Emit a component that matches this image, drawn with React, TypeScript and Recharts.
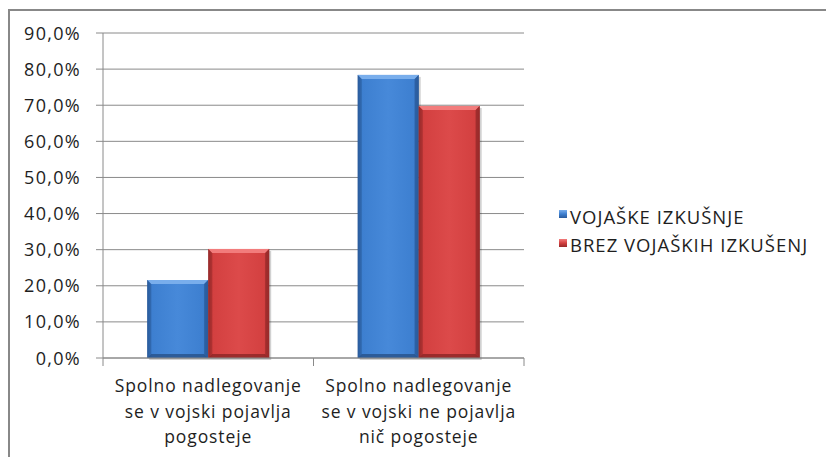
import React from "react";
import { BarChart, Bar, XAxis, YAxis, CartesianGrid, Legend } from "recharts";

const categories = [
  "Spolno nadlegovanje se v vojski pojavlja pogosteje",
  "Spolno nadlegovanje se v vojski ne pojavlja nič pogosteje",
];
const categoryLines = [
  ["Spolno nadlegovanje", "se v vojski pojavlja", "pogosteje"],
  ["Spolno nadlegovanje", "se v vojski ne pojavlja", "nič pogosteje"],
];
const seriesNames = ["VOJAŠKE IZKUŠNJE", "BREZ VOJAŠKIH IZKUŠENJ"];
const vojaskeValues = [21.6, 78.4];
const brezValues = [30.2, 69.8];
const yTicks = [0, 10, 20, 30, 40, 50, 60, 70, 80, 90];

const data = categories.map((c, i) => ({
  name: c,
  idx: i,
  vojaske: vojaskeValues[i],
  brez: brezValues[i],
}));

const W = 826;
const H = 457;
const PLOT_LEFT = 103;
const PLOT_RIGHT = 524;
const PLOT_TOP = 33;
const PLOT_BOTTOM = 358;
const Y_AXIS_W = 90;
const X_AXIS_H = 90;
const GRID = "#8a8a8a";
const TEXT = "#1e1e1e";
const FONT = "'Open Sans', sans-serif";

const palettes = {
  blue: { base: "#3d7fd0", light: "#4789d9", dark: "#2a5b9c", top: "#79aeec", bottom: "#27518a" },
  red: { base: "#d34040", light: "#dc4a4a", dark: "#982a2a", top: "#f27c7c", bottom: "#8c2525" },
};

function makeBevelBar(key: "blue" | "red") {
  const p = palettes[key];
  return function BevelBar(props: any) {
    const { x, y, width, height } = props;
    if (!height || height <= 0) return null;
    const b = 4;
    const gid = `grad-${key}`;
    return (
      <g>
        <defs>
          <linearGradient id={gid} x1="0" y1="0" x2="1" y2="0">
            <stop offset="0" stopColor={p.dark} />
            <stop offset="0.08" stopColor={p.base} />
            <stop offset="0.5" stopColor={p.light} />
            <stop offset="0.92" stopColor={p.base} />
            <stop offset="1" stopColor={p.dark} />
          </linearGradient>
        </defs>
        <rect x={x + 2} y={y + 2} width={width} height={height} fill="#000" opacity={0.18} />
        <rect x={x} y={y} width={width} height={height} fill={`url(#${gid})`} />
        <polygon
          points={`${x},${y} ${x + width},${y} ${x + width - b},${y + b} ${x + b},${y + b}`}
          fill={p.top}
        />
        <polygon
          points={`${x},${y + height} ${x + width},${y + height} ${x + width - b},${y + height - b} ${x + b},${y + height - b}`}
          fill={p.bottom}
          opacity={0.8}
        />
        <polygon
          points={`${x + width},${y} ${x + width},${y + height} ${x + width - b},${y + height - b} ${x + width - b},${y + b}`}
          fill={p.dark}
          opacity={0.8}
        />
        <polygon
          points={`${x},${y} ${x},${y + height} ${x + b},${y + height - b} ${x + b},${y + b}`}
          fill={p.dark}
          opacity={0.5}
        />
      </g>
    );
  };
}

const BlueBar = makeBevelBar("blue");
const RedBar = makeBevelBar("red");

const halfBand = (PLOT_RIGHT - PLOT_LEFT) / categories.length / 2;

function CategoryTick(props: any) {
  const { x, y, payload, index } = props;
  const lines = categoryLines[payload.index ?? index] || [String(payload.value)];
  return (
    <g>
      <line x1={x - halfBand} x2={x - halfBand} y1={y} y2={y + 8} stroke={GRID} />
      {index === categories.length - 1 && (
        <line x1={x + halfBand} x2={x + halfBand} y1={y} y2={y + 8} stroke={GRID} />
      )}
      <text x={x} y={y} textAnchor="middle" fill={TEXT} fontSize={17.5} letterSpacing={0.9} fontFamily={FONT}>
        {lines.map((l: string, i: number) => (
          <tspan key={i} x={x} y={y + 34 + i * 25.5}>
            {l}
          </tspan>
        ))}
      </text>
    </g>
  );
}

function ValueTick(props: any) {
  const { x, y, payload } = props;
  const label = `${Number(payload.value).toFixed(1).replace(".", ",")}%`;
  return (
    <text x={x} y={y} dy={6.5} textAnchor="end" fill={TEXT} fontSize={18} letterSpacing={1.3} fontFamily={FONT}>
      {label}
    </text>
  );
}

function LegendContent() {
  const colors = [palettes.blue, palettes.red];
  return (
    <div style={{ fontFamily: FONT }}>
      {seriesNames.map((n, i) => (
        <div
          key={n}
          style={{
            display: "flex",
            alignItems: "center",
            height: 28.5,
            fontSize: 18.5,
            letterSpacing: 1,
            color: TEXT,
            whiteSpace: "nowrap",
          }}
        >
          <span
            style={{
              display: "inline-block",
              width: 8,
              height: 8,
              marginRight: 3,
              marginTop: -4,
              background: `linear-gradient(${colors[i].top}, ${colors[i].base} 50%, ${colors[i].dark})`,
            }}
          />
          <span>{n}</span>
        </div>
      ))}
    </div>
  );
}

export default function App() {
  return (
    <div style={{ position: "absolute", left: 0, top: 0, width: W, height: H, background: "#fff" }}>
      <div style={{ position: "absolute", left: 8, top: 9, width: 2, height: H - 9, background: "#888" }} />
      <div style={{ position: "absolute", left: 8, top: 9, width: W - 8, height: 2, background: "#888" }} />
      <div style={{ position: "absolute", left: 0, top: 0 }}>
        <BarChart
          width={W}
          height={H}
          data={data}
          margin={{
            top: PLOT_TOP,
            left: PLOT_LEFT - Y_AXIS_W,
            right: W - PLOT_RIGHT,
            bottom: H - PLOT_BOTTOM - X_AXIS_H,
          }}
          barCategoryGap="21%"
          barGap={0}
        >
          <CartesianGrid vertical={false} stroke={GRID} strokeDasharray="" />
          <XAxis
            dataKey="name"
            height={X_AXIS_H}
            axisLine={{ stroke: GRID }}
            tickLine={false}
            tickSize={0}
            tickMargin={0}
            interval={0}
            tick={<CategoryTick />}
          />
          <YAxis
            width={Y_AXIS_W}
            domain={[0, 90]}
            ticks={yTicks}
            interval={0}
            axisLine={{ stroke: GRID }}
            tickLine={{ stroke: GRID }}
            tickSize={7}
            tickMargin={15}
            tick={<ValueTick />}
          />
          <Legend
            layout="vertical"
            align="center"
            verticalAlign="middle"
            content={<LegendContent />}
            wrapperStyle={{ left: 559, top: 202, width: 265, height: 57 }}
          />
          <Bar dataKey="vojaske" name={seriesNames[0]} shape={<BlueBar />} isAnimationActive={false} />
          <Bar dataKey="brez" name={seriesNames[1]} shape={<RedBar />} isAnimationActive={false} />
        </BarChart>
      </div>
    </div>
  );
}
